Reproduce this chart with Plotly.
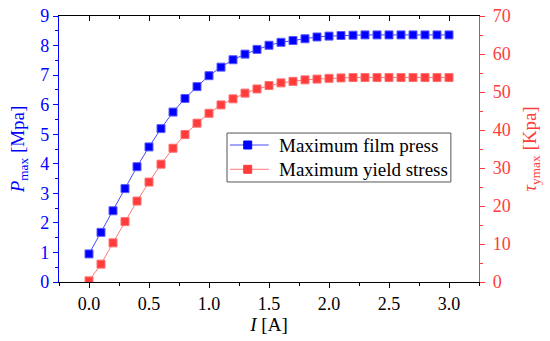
import plotly.graph_objects as go

current = [round(0.1 * i, 1) for i in range(31)]
film_press = [0.95, 1.68, 2.41, 3.16, 3.90, 4.57, 5.19, 5.75, 6.21, 6.61, 6.98,
              7.27, 7.52, 7.71, 7.87, 8.01, 8.11, 8.17, 8.23, 8.29, 8.32, 8.34,
              8.35, 8.36, 8.36, 8.36, 8.36, 8.36, 8.36, 8.36, 8.36]
yield_stress = [0.3, 4.7, 10.3, 15.9, 21.3, 26.3, 31.0, 35.2, 38.8, 41.8, 44.4,
                46.6, 48.2, 49.7, 50.8, 51.7, 52.4, 52.8, 53.2, 53.4, 53.6, 53.7,
                53.8, 53.8, 53.8, 53.8, 53.8, 53.8, 53.8, 53.8, 53.8]
series_names = ["Maximum film press", "Maximum yield stress"]

FONT = "Liberation Serif"
BLUE = "#0000ff"
RED = "#ff3b3b"
BLUE_LINE = "#4a4aff"
RED_LINE = "#ff7a7a"

fig = go.Figure()
fig.add_trace(go.Scatter(
    x=current, y=film_press, name=series_names[0], mode="lines+markers",
    line=dict(color=BLUE_LINE, width=1),
    marker=dict(symbol="square", size=8, color=BLUE, line=dict(color="#5a5aff", width=1)),
    yaxis="y", xaxis="x", showlegend=False))
fig.add_trace(go.Scatter(
    x=current, y=yield_stress, name=series_names[1], mode="lines+markers",
    line=dict(color=RED_LINE, width=1),
    marker=dict(symbol="square", size=8, color=RED, line=dict(color="#ff7070", width=1)),
    yaxis="y2", xaxis="x", showlegend=False))
# helper trace for top axis
fig.add_trace(go.Scatter(x=[None], y=[None], xaxis="x2", yaxis="y", showlegend=False, hoverinfo="skip"))

# manual legend (paper coordinates)
shapes = [dict(type="rect", xref="paper", yref="paper", x0=0.4, x1=0.933, y0=0.376, y1=0.560,
               line=dict(color="#555555", width=1), fillcolor="white", layer="above")]
annotations = []
rows = [(0.515, BLUE_LINE, BLUE, series_names[0]), (0.4237, RED_LINE, RED, series_names[1])]
for yy, lc, mc, name in rows:
    shapes.append(dict(type="line", xref="paper", yref="paper", x0=0.4071, x1=0.4993, y0=yy, y1=yy,
                       line=dict(color=lc, width=1), layer="above"))
    shapes.append(dict(type="rect", xref="paper", yref="paper", xsizemode="pixel", ysizemode="pixel",
                       xanchor=0.4493, yanchor=yy, x0=-4, x1=4, y0=-4, y1=4,
                       fillcolor=mc, line=dict(color=mc, width=1), layer="above"))
    annotations.append(dict(text=name, xref="paper", yref="paper", x=0.519, y=yy, xanchor="left",
                            yanchor="middle", showarrow=False,
                            font=dict(family=FONT, size=19, color="black")))

fig.update_layout(
    width=550, height=341,
    margin=dict(l=59, r=71, t=16, b=59, autoexpand=False),
    paper_bgcolor="white", plot_bgcolor="white",
    font=dict(family=FONT, size=17, color="black"),
    hovermode=False,
    shapes=shapes, annotations=annotations,
    xaxis=dict(range=[-0.25, 3.25], dtick=0.5, tick0=0, tickformat=".1f",
               showgrid=False, zeroline=False, showline=True, linecolor="black", linewidth=1.3,
               ticks="outside", ticklen=5, tickwidth=1, tickcolor="black",
               minor=dict(dtick=0.25, tick0=0, ticks="outside", ticklen=3, tickcolor="black"),
               tickfont=dict(family=FONT, size=18, color="black"),
               title=dict(text="<i>I</i> [A]", font=dict(family=FONT, size=19, color="black"), standoff=4)),
    xaxis2=dict(range=[-0.25, 3.25], overlaying="x", side="top", dtick=0.5, tick0=0,
                showgrid=False, zeroline=False, showline=True, linecolor="black", linewidth=1.3,
                ticks="inside", ticklen=5, tickwidth=1, tickcolor="black",
                minor=dict(dtick=0.25, tick0=0, ticks="inside", ticklen=3, tickcolor="black"),
                showticklabels=False),
    yaxis=dict(range=[0, 9], dtick=1, showgrid=False, zeroline=False,
               showline=True, linecolor=BLUE, linewidth=1.3,
               ticks="outside", ticklen=5, tickwidth=1, tickcolor=BLUE,
               minor=dict(dtick=0.5, ticks="outside", ticklen=3, tickcolor=BLUE),
               tickfont=dict(family=FONT, size=18, color=BLUE), ticklabeloverflow="allow",
               title=dict(text="<i>P</i><sub>max</sub> [Mpa]", font=dict(family=FONT, size=19, color=BLUE), standoff=10)),
    yaxis2=dict(range=[0, 70], dtick=10, overlaying="y", side="right", showgrid=False, zeroline=False,
                showline=True, linecolor=RED, linewidth=1.3,
                ticks="outside", ticklen=5, tickwidth=1, tickcolor=RED,
                minor=dict(dtick=5, ticks="outside", ticklen=3, tickcolor=RED),
                tickfont=dict(family=FONT, size=18, color=RED), ticklabelstandoff=4,
                ticklabeloverflow="allow",
                title=dict(text="<i>τ</i><sub>ymax</sub> [Kpa]", font=dict(family=FONT, size=19, color=RED), standoff=12)),
)

fig.write_html("out.html", config={"displayModeBar": False},
               post_script="document.body.style.margin='0';")
